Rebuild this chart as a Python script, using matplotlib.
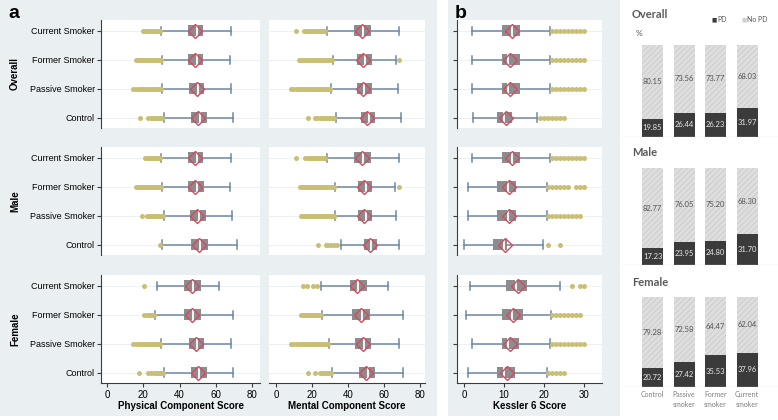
import matplotlib
matplotlib.use('Agg')
import matplotlib.pyplot as plt
from matplotlib.patches import Rectangle

W, H = 778, 420

groups = ['Current Smoker', 'Former Smoker', 'Passive Smoker', 'Control']
rows = ['Overall', 'Male', 'Female']

# ---- physical component score (rows: overall, male, female) ----
pcs_lo = [[29.8, 30.2, 30.5, 31.4], [29.7, 30.5, 31.6, 30.2], [27.4, 26.5, 29.8, 31.4]]
pcs_q1 = [[44.7, 44.8, 45.2, 46.3], [44.5, 44.9, 45.8, 46.3], [42.6, 42.6, 45.2, 46.3]]
pcs_med = [[49.5, 49.6, 50.2, 51.1], [49.4, 49.7, 50.6, 51.2], [47.4, 47.5, 49.6, 51.0]]
pcs_q3 = [[53.0, 53.0, 53.6, 55.0], [53.2, 53.5, 54.6, 55.7], [51.8, 52.1, 53.5, 55.0]]
pcs_hi = [[68.4, 68.0, 68.6, 69.6], [68.2, 67.9, 69.0, 71.9], [61.8, 69.3, 68.4, 69.3]]
pcs_mean = [[48.6, 48.7, 49.4, 50.3], [48.6, 48.8, 49.9, 50.5], [46.8, 46.9, 49.0, 50.3]]
pcs_out = [
    [[20, 21, 22, 23, 24, 25, 26, 27, 28, 29],
     [16, 17, 18, 19, 20, 21, 22, 23, 24, 25, 26, 27, 28, 29, 30],
     [14.5, 16, 17.5, 19, 20, 21, 22, 23, 24, 25, 26, 27, 28, 29, 30],
     [18.2, 22.7, 24.2, 25.5, 26.5, 27.5, 28.5, 29.5, 30.5]],
    [[21, 22, 23, 24, 25, 26, 27, 28, 29],
     [16, 17, 18, 19, 20, 21, 22, 23, 24, 25, 26, 27, 28, 29, 30],
     [19.2, 22, 23, 24, 25, 26, 27, 28, 29, 30, 31],
     [29.3]],
    [[20.4],
     [20.4, 21.8, 23, 24, 25, 26],
     [14.5, 16, 17.5, 19, 20, 21, 22, 23, 24, 25, 26, 27, 28, 29],
     [17.8, 22.8, 24.5, 26, 27, 28, 29, 30, 31]],
]

# ---- mental component score ----
mcs_lo = [[28.1, 31.5, 30.6, 33.3], [28.1, 32.8, 32.8, 36.1], [25.0, 25.4, 29.6, 30.9]]
mcs_q1 = [[43.5, 45.2, 44.8, 47.0], [43.5, 45.6, 45.6, 48.9], [41.1, 42.0, 44.0, 46.3]]
mcs_med = [[48.6, 49.3, 49.0, 51.6], [48.6, 49.8, 49.8, 53.0], [45.8, 48.0, 49.0, 51.0]]
mcs_q3 = [[52.6, 53.3, 53.3, 55.2], [52.6, 53.3, 53.3, 55.9], [50.4, 52.2, 52.8, 55.0]]
mcs_hi = [[68.3, 66.5, 67.8, 69.4], [68.3, 66.3, 66.7, 68.5], [62.4, 70.4, 68.5, 70.4]]
mcs_mean = [[47.6, 48.5, 48.1, 50.7], [47.6, 48.9, 48.9, 52.2], [44.8, 47.0, 48.1, 50.0]]
mcs_out = [
    [[11.1, 15.5, 16.5, 17.5, 18.5, 19.5, 20.5, 21.5, 22.5, 23.5, 24.5, 25.5, 26.5, 27.5],
     [13, 14, 15, 16, 17, 18, 19, 20, 21, 22, 23, 24, 25, 26, 27, 28, 29, 30, 31, 68.3],
     [8.1, 9.5, 11, 12, 13, 14, 15, 16, 17, 18, 19, 20, 21, 22, 23, 24, 25, 26, 27, 28, 29, 30],
     [18, 21.7, 23, 24.5, 25.5, 26.5, 27.5, 28.5, 29.5, 30.5, 31.5, 32.5]],
    [[11.1, 16.3, 17.5, 18.5, 19.5, 20.5, 21.5, 22.5, 23.5, 24.5, 25.5, 26.5, 27.5],
     [13.3, 14.5, 15.5, 16.5, 17.5, 18.5, 19.5, 20.5, 21.5, 22.5, 23.5, 24.5, 25.5, 26.5,
      27.5, 28.5, 29.5, 30.5, 31.5, 32.5, 68.3],
     [13.9, 15, 16, 17, 18, 19, 20, 21, 22, 23, 24, 25, 26, 27, 28, 29, 30, 31, 32, 32.5],
     [23.5, 27.8, 29, 30.5, 32, 33.7]],
    [[15.2, 17, 20.7, 22.9],
     [13.9, 15, 16, 17, 18, 19, 20, 21, 22, 23, 24, 25],
     [8.3, 9.5, 11, 12.5, 14, 15, 16, 17, 18, 19, 20, 21, 22, 23, 24, 25, 26, 27, 28, 29],
     [18, 21.9, 24.4, 25.5, 26.5, 27.5, 28.5, 29.5, 30.5]],
]

# ---- kessler 6 ----
k6_lo = [[1.9, 1.9, 1.9, 2.3], [1.9, 0.9, 0.9, 0.0], [1.5, 0.5, 1.9, 0.9]]
k6_q1 = [[9.6, 9.6, 9.6, 8.3], [9.6, 8.3, 8.3, 7.3], [10.4, 9.4, 9.4, 8.2]]
k6_med = [[12, 11, 11, 10], [12, 11, 11, 10], [13, 12, 11, 10]]
k6_q3 = [[14.0, 14.0, 14.0, 11.9], [14.0, 12.9, 12.9, 10.8], [15.8, 14.8, 13.8, 12.75]]
k6_hi = [[21.5, 21.5, 21.5, 18.2], [21.5, 20.7, 20.7, 19.7], [24.0, 21.8, 21.5, 20.7]]
k6_mean = [[11.9, 11.5, 11.5, 10.4], [11.9, 11.3, 11.3, 10.25], [13.6, 12.3, 11.5, 10.7]]
k6_out = [
    [[22, 23, 24, 25, 26, 27, 28, 29, 30],
     [22, 23, 24, 25, 26, 27, 28, 29, 30],
     [22, 23, 24, 25, 26, 27, 28, 29, 30],
     [19, 20, 21, 22, 23, 24, 25]],
    [[22, 23, 24, 25, 26, 27, 28, 29, 30],
     [21, 22, 23, 24, 25, 26, 28, 29, 30],
     [21, 22, 23, 24, 25, 26, 27, 28, 29],
     [21, 24]],
    [[27, 29, 30],
     [22, 23, 24, 25, 26, 27, 28, 29],
     [22, 23, 24, 25, 26, 27, 28, 29, 30],
     [21, 22, 23, 24, 25]],
]

# ---- psychological distress bars ----
bar_cats = ['Control', 'Passive\nsmoker', 'Former\nsmoker', 'Current\nsmoker']
pd_overall = [19.85, 26.44, 26.23, 31.97]
nopd_overall = [80.15, 73.56, 73.77, 68.03]
pd_male = [17.23, 23.95, 24.80, 31.70]
nopd_male = [82.77, 76.05, 75.20, 68.30]
pd_female = [20.72, 27.42, 35.53, 37.96]
nopd_female = [79.28, 72.58, 64.47, 62.04]

WHISK = '#6e87a4'
BOXC = '#8e8b8e'
RED = '#d24a5c'
OUTC = '#c9bf74'
GRID = '#edf1f4'
BG = '#eaf0f2'
SPINE = '#3c3c3c'

plt.rcParams['font.family'] = ['Liberation Sans', 'DejaVu Sans']
plt.rcParams['hatch.linewidth'] = 0.5


def rect(x0, y0, x1, y1):
    # pixel box (top-left origin) -> figure fraction
    return [x0 / W, 1 - y1 / H, (x1 - x0) / W, (y1 - y0) / H]


def draw_boxes(ax, lo, q1, med, q3, hi, mean, outs):
    for i in range(4):
        ax.axhline(i, color=GRID, lw=0.8, zorder=0)
        ax.plot([lo[i], q1[i]], [i, i], color=WHISK, lw=1.1, zorder=2)
        ax.plot([q3[i], hi[i]], [i, i], color=WHISK, lw=1.1, zorder=2)
        ax.plot([lo[i], lo[i]], [i - 0.15, i + 0.15], color=WHISK, lw=1.1, zorder=2)
        ax.plot([hi[i], hi[i]], [i - 0.15, i + 0.15], color=WHISK, lw=1.1, zorder=2)
        ax.add_patch(Rectangle((q1[i], i - 0.19), q3[i] - q1[i], 0.38,
                               facecolor=BOXC, edgecolor='none', zorder=3))
        ax.plot([med[i], med[i]], [i - 0.19, i + 0.19], color='white', lw=1.3, zorder=4)
        ax.plot(mean[i], i, marker='D', ms=7.3, mfc='none', mec=RED, mew=1.0, zorder=5)
        ax.plot(outs[i], [i] * len(outs[i]), 'o', ms=3.6, color=OUTC, mec='none', zorder=2)


fig = plt.figure(figsize=(W / 100, H / 100), dpi=100)

# panel backgrounds
fig.patches.append(Rectangle((0, 1 - 416 / H), 437 / W, 416 / H, transform=fig.transFigure,
                             facecolor=BG, edgecolor='none', zorder=-10))
fig.patches.append(Rectangle((448 / W, 1 - 416 / H), 172 / W, 416 / H, transform=fig.transFigure,
                             facecolor=BG, edgecolor='none', zorder=-10))

row_y = [(20, 128), (147, 255), (275, 383)]
cols = [
    (101, 260, (-3.3, 84.4), [0, 20, 40, 60, 80], 'Physical Component Score',
     (pcs_lo, pcs_q1, pcs_med, pcs_q3, pcs_hi, pcs_mean, pcs_out)),
    (269, 425, (-3.9, 82.8), [0, 20, 40, 60, 80], 'Mental Component Score',
     (mcs_lo, mcs_q1, mcs_med, mcs_q3, mcs_hi, mcs_mean, mcs_out)),
    (457, 602, (-1.75, 34.5), [0, 10, 20, 30], 'Kessler 6 Score',
     (k6_lo, k6_q1, k6_med, k6_q3, k6_hi, k6_mean, k6_out)),
]

for c, (x0, x1, xlim, xt, xlabel, d) in enumerate(cols):
    for r, (y0, y1) in enumerate(row_y):
        ax = fig.add_axes(rect(x0, y0, x1, y1))
        ax.set_facecolor('white')
        draw_boxes(ax, *[v[r] for v in d])
        ax.set_xlim(*xlim)
        ax.set_ylim(3.36, -0.38)
        for s in ['top', 'right']:
            ax.spines[s].set_visible(False)
        ax.spines['left'].set_visible(c != 1)
        ax.spines['left'].set_color(SPINE)
        ax.spines['bottom'].set_visible(r == 2)
        ax.spines['bottom'].set_color(SPINE)
        ax.set_yticks(range(4))
        if c == 0:
            ax.set_yticklabels(groups, fontsize=6.5)
        else:
            ax.set_yticklabels([])
        if c == 1:
            ax.tick_params(axis='y', length=0)
        else:
            ax.tick_params(axis='y', length=3, width=0.8, color=SPINE, pad=1.5)
        if r == 2:
            ax.set_xticks(xt)
            ax.tick_params(axis='x', length=3, width=0.8, color=SPINE, labelsize=7, pad=2)
            ax.set_xlabel(xlabel, fontsize=7, fontweight='bold', labelpad=1)
        else:
            ax.set_xticks([])

for name, yc in zip(rows, [74, 201, 329]):
    fig.text(15 / W, 1 - yc / H, name, rotation=90, fontsize=7, fontweight='bold',
             ha='center', va='center')

fig.text(14 / W, 1 - 13 / H, 'a', fontsize=14, fontweight='bold', ha='center', va='center')
fig.text(461 / W, 1 - 13 / H, 'b', fontsize=14, fontweight='bold', ha='center', va='center')

# ---- bar panels ----
bar_rows = [('Overall', pd_overall, nopd_overall, 45, 137, 14),
            ('Male', pd_male, nopd_male, 168, 265, 152),
            ('Female', pd_female, nopd_female, 297, 387, 282)]
xs = [0, 1, 2, 3]
for k, (title, pdv, nopd, top, bot, ty) in enumerate(bar_rows):
    ax = fig.add_axes(rect(622, top, 778, bot))
    ax.bar(xs, pdv, width=0.67, color='#3b3b3b', zorder=2)
    ax.bar(xs, nopd, width=0.67, bottom=pdv, facecolor='#dedede', edgecolor='#c6c6c6',
           hatch='//////', linewidth=0, zorder=2)
    for x, a, b in zip(xs, pdv, nopd):
        ax.text(x, a / 2, f'{a:.2f}', ha='center', va='center', fontsize=5.5,
                color='#e8e8e8', family='Lato')
        ax.text(x, a + b / 2, f'{b:.2f}', ha='center', va='center', fontsize=5.5,
                color='#555555', family='Lato')
    ax.axhline(0, color='#d6d6d6', lw=0.9, zorder=3)
    ax.set_xlim(-0.97, 3.98)
    ax.set_ylim(0, 100)
    ax.axis('off')
    fig.text(632 / W, 1 - ty / H, title, fontsize=8, fontweight='bold', color='#595959',
             ha='left', va='center', family='Lato')
    if k == 2:
        for x, lab in zip(xs, bar_cats):
            ax.text(x, -4, lab, ha='center', va='top', fontsize=5, color='#7f7f7f',
                    family='Lato', linespacing=1.5)

fig.text(636 / W, 1 - 34 / H, '%', fontsize=6, color='#555555', ha='left', va='center',
         family='Lato')
fig.text(712 / W, 1 - 20 / H, '■', fontsize=4, color='#3b3b3b', ha='left', va='center',
         family='DejaVu Sans')
fig.text(717 / W, 1 - 20 / H, 'PD', fontsize=5, color='#595959', ha='left', va='center',
         family='Lato')
fig.text(742 / W, 1 - 20 / H, '■', fontsize=4, color='#d0d0d0', ha='left', va='center',
         family='DejaVu Sans')
fig.text(747 / W, 1 - 20 / H, 'No PD', fontsize=5, color='#595959', ha='left', va='center',
         family='Lato')

fig.savefig('out.png', dpi=100)
